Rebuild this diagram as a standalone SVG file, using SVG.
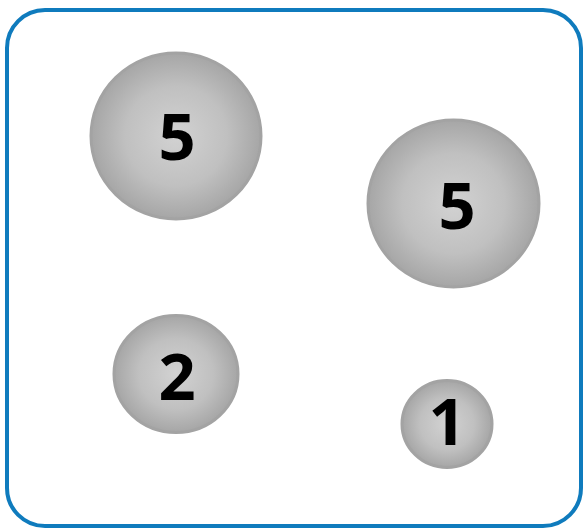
<svg xmlns="http://www.w3.org/2000/svg" width="583" height="529" viewBox="0 0 583 529">
<defs>
<radialGradient id="g" cx="50%" cy="50%" r="50%">
<stop offset="0" stop-color="#d2d2d2"/>
<stop offset="0.6" stop-color="#c0c0c0"/>
<stop offset="1" stop-color="#a6a6a6"/>
</radialGradient>
</defs>
<style>
.n{fill:url(#g);stroke:#a3a3a3;stroke-width:3}
.t{font-family:"Open Sans","Noto Sans",sans-serif;font-weight:bold;font-size:65px;fill:#000;text-anchor:middle}
</style>
<rect x="7" y="10" width="574" height="516" rx="38" ry="38" fill="#fff" stroke="#0f7bbd" stroke-width="4"/>
<g id="connectors"/>
<g id="n1"><ellipse class="n" cx="176" cy="136" rx="85" ry="83"/><text class="t" x="177" y="160">5</text></g>
<g id="n2"><ellipse class="n" cx="453.5" cy="203.5" rx="85.5" ry="83.5"/><text class="t" x="457" y="229">5</text></g>
<g id="n3"><ellipse class="n" cx="176" cy="374" rx="62" ry="58.5"/><text class="t" x="177" y="400">2</text></g>
<g id="n4"><ellipse class="n" cx="447" cy="424" rx="45" ry="43.5"/><text class="t" x="447" y="445">1</text></g>
</svg>
